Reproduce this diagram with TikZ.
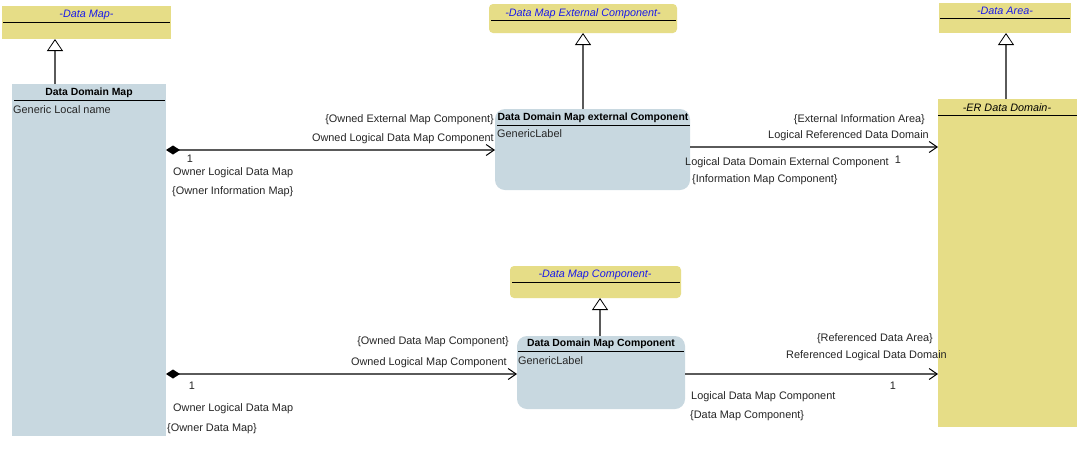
\documentclass[tikz,border=0pt]{standalone}
\usepackage{fontspec}
\setmainfont{Liberation Sans}
\usetikzlibrary{arrows.meta}
\definecolor{cyel}{RGB}{230,221,135}
\definecolor{cblu}{RGB}{200,216,224}
\definecolor{cline}{RGB}{90,90,90}
\definecolor{ctitle}{RGB}{25,25,235}
\begin{document}
\begin{tikzpicture}[x=1pt,y=-1pt,
  cbox/.style={anchor=north west, inner sep=0pt, outer sep=0pt, draw=none},
  ybox/.style={cbox, fill=cyel},
  bbox/.style={cbox, fill=cblu},
  hline/.style={line width=1pt, black},
  abstitle/.style={font=\fontsize{10.8}{12}\selectfont\itshape, text=ctitle, inner sep=0pt, yshift=-1.5pt},
  clstitle/.style={font=\fontsize{10.4}{12}\selectfont\bfseries, inner sep=0pt, yshift=-1.5pt},
  lbl/.style={font=\fontsize{10.9}{12}\selectfont, text=black!85, inner sep=0pt, yshift=-1.5pt},
  gen/.style={draw=cline, line width=1.3pt, -{Triangle[open, length=12pt, width=16pt, fill=white, color=black, line width=0.8pt]}},
  assoc/.style={draw=cline, line width=1.3pt, {Diamond[length=14pt, width=9pt, fill=black, color=black]}-{Straight Barb[length=8pt, width=11pt, color=black, line width=1pt]}},
  navi/.style={draw=cline, line width=1.3pt, -{Straight Barb[length=8pt, width=11pt, color=black, line width=1pt]}}
]
\useasboundingbox[fill=white] (0,0) rectangle (1080,448);

% --- classes ---
\node[ybox, minimum width=169pt, minimum height=33pt] (dm) at (2,6) {};
\draw[hline] (3,22) -- (170,22);
\node[abstitle] (dmT) at (86.5,13) {-Data Map-};

\node[bbox, minimum width=154pt, minimum height=352pt] (ddm) at (12,84) {};
\draw[hline] (14,100) -- (165,100);
\node[clstitle] (ddmT) at (89,91) {Data Domain Map};
\node[lbl, anchor=west] (ddmA) at (13,108) {Generic Local name};

\node[ybox, minimum width=188pt, minimum height=29pt, rounded corners=4pt] (dmec) at (489,4) {};
\draw[hline] (491,20) -- (676,20);
\node[abstitle] (dmecT) at (583,12) {-Data Map External Component-};

\node[bbox, minimum width=195pt, minimum height=81pt, rounded corners=10pt] (ddmx) at (495,109) {};
\draw[hline] (497,125) -- (690,125);
\node[clstitle] (ddmxT) at (593,116) {Data Domain Map external Component};
\node[lbl, anchor=west] (ddmxA) at (497,132) {GenericLabel};

\node[ybox, minimum width=132pt, minimum height=30pt] (da) at (939,3) {};
\draw[hline] (940,18) -- (1070,18);
\node[abstitle] (daT) at (1005,9) {-Data Area-};

\node[ybox, minimum width=139pt, minimum height=328pt] (er) at (938,99) {};
\draw[hline] (938,115) -- (1077,115);
\node[abstitle, text=black] (erT) at (1007,106) {-ER Data Domain-};

\node[ybox, minimum width=171pt, minimum height=32pt, rounded corners=4pt] (dmc) at (510,266) {};
\draw[hline] (512,282) -- (680,282);
\node[abstitle] (dmcT) at (595,273) {-Data Map Component-};

\node[bbox, minimum width=168pt, minimum height=73pt, rounded corners=10pt] (ddmc) at (517,336) {};
\draw[hline] (518,351) -- (684,351);
\node[clstitle] (ddmcT) at (601,342) {Data Domain Map Component};
\node[lbl, anchor=west] (ddmcA) at (518,359) {GenericLabel};

% --- generalizations ---
\draw[gen] ([xshift=-34pt]ddm.north) -- ([xshift=-34pt]ddm.north |- dm.south);
\draw[gen] ([xshift=-9.5pt]ddmx.north) -- ([xshift=-9.5pt]ddmx.north |- dmec.south);
\draw[gen] ([xshift=-1.5pt]er.north) -- ([xshift=-1.5pt]er.north |- da.south);
\draw[gen] ([xshift=-1pt]ddmc.north) -- ([xshift=-1pt]ddmc.north |- dmc.south);

% --- associations ---
\coordinate (a1) at ([yshift=-66pt]ddm.north east);
\draw[assoc] (a1) -- (a1 -| ddmx.west);
\coordinate (a2) at ([yshift=-38pt]ddmx.north east);
\draw[navi] (a2) -- (a2 -| er.west);
\coordinate (a3) at ([yshift=-290pt]ddm.north east);
\draw[assoc] (a3) -- (a3 -| ddmc.west);
\coordinate (a4) at ([yshift=-38pt]ddmc.north east);
\draw[navi] (a4) -- (a4 -| er.west);

% --- association labels ---
\node[lbl, anchor=east] (l1) at (494,118) {\{Owned External Map Component\}};
\node[lbl, anchor=east] (l2) at (494,137) {Owned Logical Data Map Component};
\node[lbl] (l3) at (190,157) {1};
\node[lbl, anchor=west] (l4) at (173,171) {Owner Logical Data Map};
\node[lbl, anchor=west] (l5) at (172,190) {\{Owner Information Map\}};

\node[lbl, anchor=east] (r1) at (925,118) {\{External Information Area\}};
\node[lbl, anchor=east] (r2) at (929,134) {Logical Referenced Data Domain};
\node[lbl, anchor=west] (r3) at (685,161) {Logical Data Domain External Component};
\node[lbl] (r4) at (898,158) {1};
\node[lbl, anchor=west] (r5) at (692,178) {\{Information Map Component\}};

\node[lbl, anchor=east] (b1) at (509,340) {\{Owned Data Map Component\}};
\node[lbl, anchor=east] (b2) at (507,361) {Owned Logical Map Component};
\node[lbl] (b3) at (192,384) {1};
\node[lbl, anchor=west] (b4) at (173,407) {Owner Logical Data Map};
\node[lbl, anchor=west] (b5) at (167,427) {\{Owner Data Map\}};

\node[lbl, anchor=east] (c1) at (933,337) {\{Referenced Data Area\}};
\node[lbl, anchor=east] (c2) at (947,354) {Referenced Logical Data Domain};
\node[lbl] (c3) at (893,384) {1};
\node[lbl, anchor=west] (c4) at (691,395) {Logical Data Map Component};
\node[lbl, anchor=west] (c5) at (690,414) {\{Data Map Component\}};
\end{tikzpicture}
\end{document}
